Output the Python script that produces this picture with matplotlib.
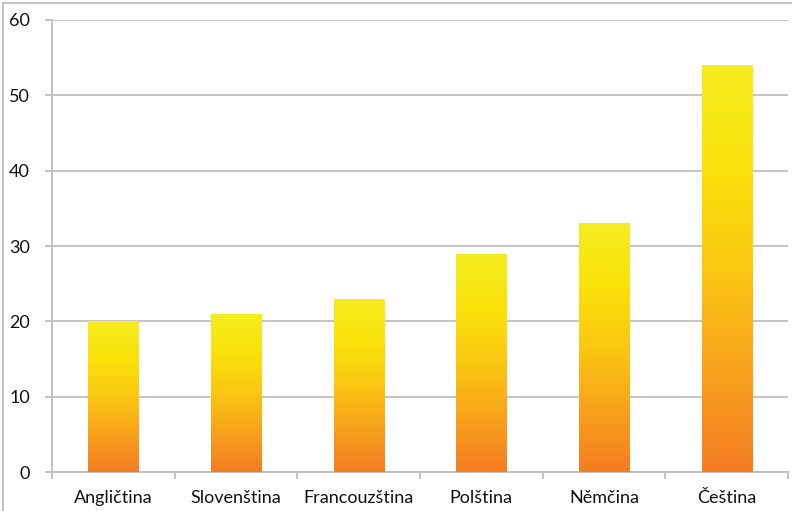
import numpy as np
import matplotlib
matplotlib.use('Agg')
import matplotlib.pyplot as plt
from matplotlib.colors import LinearSegmentedColormap
from matplotlib.lines import Line2D

# Data
jazyky = ['Angličtina', 'Slovenština', 'Francouzština', 'Polština', 'Němčina', 'Čeština']
hodnoty = [20, 21, 23, 29, 33, 54]

plt.rcParams['font.family'] = ['Lato', 'DejaVu Sans']

GRID = '#bfbfbf'
grad = LinearSegmentedColormap.from_list(
    'oranzova', ['#f47c22', '#f8a21c', '#fbc712', '#f9e20a', '#f6ec20'])

fig = plt.figure(figsize=(7.92, 5.11), dpi=100)
ax = fig.add_axes([52 / 792, 39 / 511, 736 / 792, 452 / 511])

x = np.arange(len(jazyky))
bars = ax.bar(x, hodnoty, width=0.41, color='none', edgecolor='none', zorder=3)

# gradient uvnitř každého sloupce
g = np.linspace(0, 1, 256).reshape(-1, 1)
for b in bars:
    x0, w, h = b.get_x(), b.get_width(), b.get_height()
    im = ax.imshow(g, cmap=grad, origin='lower', aspect='auto',
                   extent=(x0, x0 + w, 0, h), zorder=3, interpolation='bilinear')
    im.set_clip_path(b)

ax.set_xlim(-0.5, len(jazyky) - 0.5)
ax.set_ylim(0, 60)
ax.set_yticks(np.arange(0, 61, 10))
ax.set_xticks(x)
ax.set_xticklabels(jazyky)
ax.set_xticks(np.arange(-0.5, len(jazyky)), minor=True)

ax.grid(axis='y', color=GRID, linewidth=1.3, zorder=0)
ax.set_axisbelow(True)
for s in ['top', 'right']:
    ax.spines[s].set_visible(False)
ax.spines['left'].set_color(GRID)
ax.spines['bottom'].set_color(GRID)
ax.spines['left'].set_linewidth(1.3)
ax.spines['bottom'].set_linewidth(1.3)

ax.tick_params(axis='y', length=5, width=1.3, color=GRID, labelsize=13, pad=11, labelcolor='#111111')
ax.tick_params(axis='x', which='major', length=0, labelsize=13, pad=13, labelcolor='#111111')
ax.tick_params(axis='x', which='minor', length=5, width=1.3, color=GRID)

# rámeček obrázku (jen nahoře a vlevo)
fig.add_artist(Line2D([3 / 792, 1], [1 - 3 / 511, 1 - 3 / 511], color=GRID, linewidth=1.3))
fig.add_artist(Line2D([3 / 792, 3 / 792], [0, 1 - 3 / 511], color=GRID, linewidth=1.3))

fig.savefig('out.png', dpi=100)
